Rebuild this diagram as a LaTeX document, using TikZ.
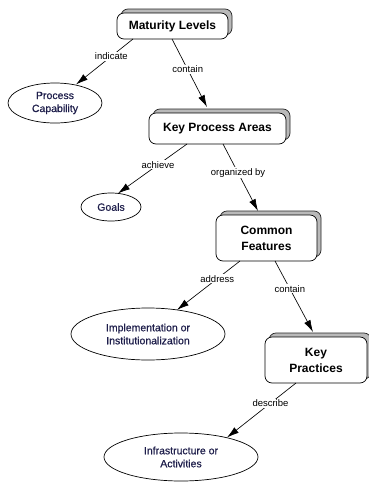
\documentclass[tikz,border=0pt]{standalone}
\usepackage{fontspec}
\setmainfont{Liberation Sans}
\newfontfamily\ovalfont[FakeBold=0.6]{Liberation Sans}
\usetikzlibrary{shapes.geometric,shadows,arrows.meta,calc}
\definecolor{navy}{RGB}{30,30,75}
\begin{document}
\begin{tikzpicture}[x=1pt,y=-1pt,
 box/.style={rectangle, rounded corners=7pt, draw=black, line width=0.7pt, fill=white,
   font=\fontsize{12}{16}\selectfont\bfseries, align=center, inner sep=0pt, outer sep=0pt,
   copy shadow={shadow xshift=4pt, shadow yshift=4pt, fill=gray!55, draw=gray!30!black, line width=0.7pt}},
 oval/.style={ellipse, draw=black, line width=0.7pt, fill=white,
   font=\fontsize{10.5}{13}\ovalfont\selectfont, text=navy, align=center, inner sep=0pt, outer sep=0pt},
 conn/.style={line width=0.65pt, -{Latex[length=12pt,width=7pt]}},
 lbl/.style={fill=white, inner sep=1pt, font=\fontsize{9.5}{11}\selectfont}
]
\useasboundingbox (0,0) rectangle (368,482);
\fill[white] (0,0) rectangle (368,482);

\node[box, minimum width=111pt, minimum height=26pt] (ML) at (172.5,26) {Maturity Levels};
\node[box, minimum width=137pt, minimum height=31pt] (KPA) at (217.5,128.5) {Key Process Areas};
\node[box, minimum width=101pt, minimum height=46pt] (CF) at (266.5,238) {Common\\Features};
\node[box, minimum width=102pt, minimum height=46pt] (KP) at (316,360) {Key\\Practices};

\node[oval, minimum width=94pt, minimum height=40pt] (PC) at (55,103) {Process\\Capability};
\node[oval, minimum width=60pt, minimum height=28pt] (G) at (111,207) {Goals};
\node[oval, minimum width=154pt, minimum height=52pt] (IM) at (148,334) {Implementation or\\Institutionalization};
\node[oval, minimum width=154pt, minimum height=48pt] (IA) at (181,457) {Infrastructure or\\Activities};

\draw[conn] ($(ML.south)+(-39.5,0)$) -- node[lbl, pos=0.38] {indicate} ($(PC.center)+(21,-18.5)$);
\draw[conn] ($(ML.south)+(-0.5,0)$) -- node[lbl, pos=0.45] {contain} ($(KPA.north)+(-10.5,-6)$);
\draw[conn] ($(KPA.south)+(-30.5,0)$) -- node[lbl, pos=0.42] {achieve} ($(G.center)+(7,-13.6)$);
\draw[conn] ($(KPA.south)+(5.5,0)$) -- node[lbl, pos=0.43] {organized by} ($(CF.north)+(-8.5,-4)$);
\draw[conn] ($(CF.south)+(-26.5,0)$) -- node[lbl, pos=0.36] {address} ($(IM.center)+(29,-24.1)$);
\draw[conn] ($(CF.south)+(8.5,0)$) -- node[lbl, pos=0.39] {contain} ($(KP.north)+(-3,-5)$);
\draw[conn] ($(KP.south)+(-20,0)$) -- node[lbl, pos=0.37] {describe} ($(IA.center)+(46,-19.5)$);
\end{tikzpicture}
\end{document}
